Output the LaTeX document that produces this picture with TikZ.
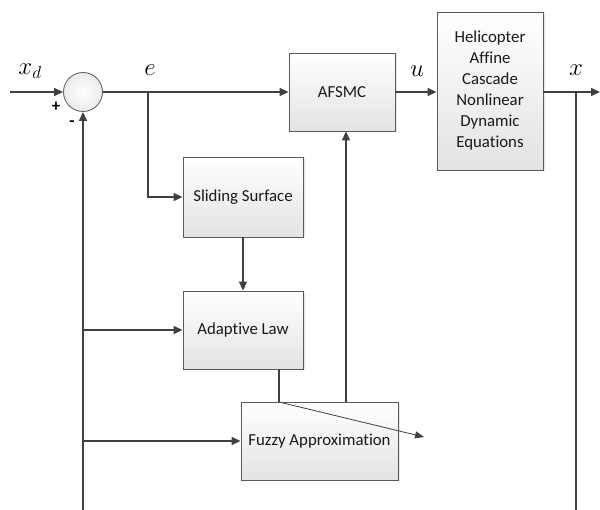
\documentclass[tikz,border=0pt]{standalone}
\usepackage{fontspec}
\setmainfont{Carlito}[Ligatures=NoCommon]
\usetikzlibrary{arrows.meta,shadows}
\begin{document}
\begin{tikzpicture}[x=1pt,y=-1pt,
  blk/.style={draw=black!65, line width=0.9pt, top color=white, bottom color=black!11,
    drop shadow={opacity=0.18,shadow xshift=1.5pt,shadow yshift=-1.5pt},
    font=\fontsize{16.8}{21}\selectfont, text=black!90, align=center, inner sep=0pt},
  sumc/.style={circle, draw=black!60, line width=0.9pt, inner color=white, outer color=black!8,
    minimum size=39pt, inner sep=0pt},
  wire/.style={draw=black!75, line width=1.5pt},
  arr/.style={wire, -{Triangle[length=9pt,width=8pt]}},
  tarr/.style={draw=black!75, line width=0.8pt, -{Triangle[length=9pt,width=7pt]}},
  lbl/.style={font=\fontsize{25}{25}\selectfont},
  sgn/.style={font=\bfseries\fontsize{17}{17}\selectfont}]
\useasboundingbox (0,0) rectangle (600,510);

\node[sumc] (sum) at (83,92) {};
\node[blk, minimum width=106pt, minimum height=78pt] (afsmc) at (342,92) {AFSMC};
\node[blk, minimum width=106pt, minimum height=158pt] (heli) at (490,91)
  {Helicopter\\Affine\\Cascade\\Nonlinear\\Dynamic\\Equations};
\node[blk, minimum width=120pt, minimum height=80pt] (slide) at (243,197) {Sliding Surface};
\node[blk, minimum width=120pt, minimum height=78pt] (adapt) at (243,330) {Adaptive Law};
\node[blk, minimum width=157pt, minimum height=78pt] (fuzzy) at (319.5,441) {Fuzzy Approximation};

\coordinate (in) at (10,92);
\coordinate (eb) at (148,92);
\coordinate (xb) at (576,92);
\coordinate (out) at (600,92);
\coordinate (xbot) at (576,510);
\coordinate (fbot) at (83,510);
\coordinate (fz) at (346,402);
\coordinate (ad) at (279,402);
\coordinate (dend) at (424,437);

\draw[arr] (in) -- (sum.west);
\draw[arr] (sum.east) -- (afsmc.west);
\draw[arr] (eb) |- (slide.west);
\draw[arr] (slide.south) -- (adapt.north);
\draw[arr] (afsmc.east) -- (afsmc.east -| heli.west);
\draw[arr] (heli.east |- xb) -- (out);
\draw[wire] (xb) -- (xbot);
\draw[arr] (fbot) -- (sum.south);
\draw[arr] (adapt.west -| fbot) -- (adapt.west);
\draw[arr] (fuzzy.west -| fbot) -- (fuzzy.west);
\draw[arr] (fz) -- (fz |- afsmc.south);
\draw[wire] (ad |- adapt.south) -- (ad);
\draw[tarr] (ad) -- (dend);

\node[lbl] (lxd) at (30,71) {$x_d$};
\node[lbl] (le) at (150,70) {$e$};
\node[lbl] (lu) at (417,71) {$u$};
\node[lbl] (lx) at (576,70) {$x$};
\node[sgn] (plus) at (56,107) {+};
\node[sgn] (minus) at (72,124) {-};
\end{tikzpicture}
\end{document}
